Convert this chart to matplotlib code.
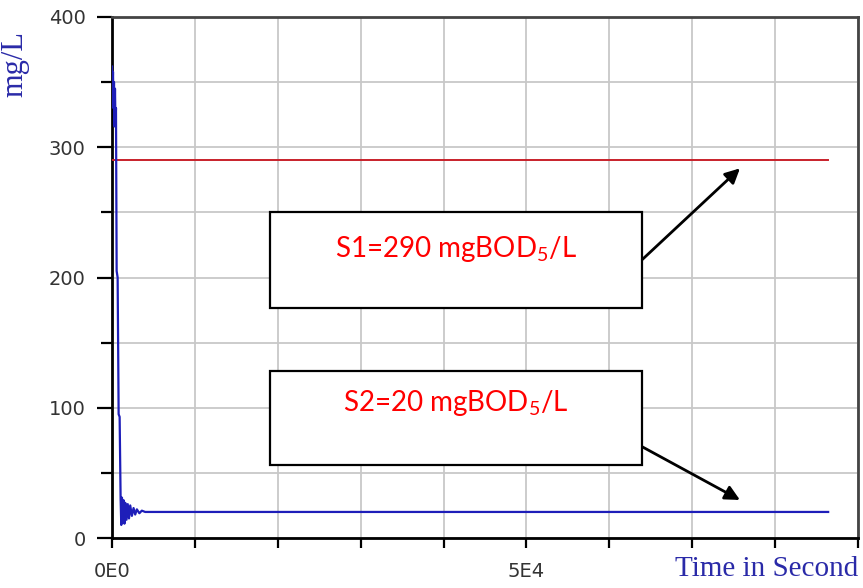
import matplotlib
matplotlib.use("Agg")
import matplotlib.pyplot as plt
from matplotlib.patches import Rectangle
from matplotlib.ticker import MultipleLocator, FixedLocator, FixedFormatter

plt.rcParams["mathtext.fontset"] = "custom"
plt.rcParams["mathtext.rm"] = "Lato"

# Simulated substrate concentration over one day (seconds, mg/L)
time_s2 = [0, 60, 120, 180, 240, 300, 360, 420, 480, 560, 680, 800, 920, 1040,
           1120, 1200, 1300, 1400, 1500, 1600, 1750, 1900, 2050, 2200, 2400,
           2600, 2800, 3000, 3300, 3600, 4000, 86400]
conc_s2 = [362, 340, 358, 330, 350, 316, 345, 318, 330, 205, 200, 95, 93, 30,
           10, 31, 12, 29, 11, 27, 14, 26, 15, 25, 17, 23, 18, 22, 19, 21,
           20, 20]
time_s1 = [0, 86400]
conc_s1 = [290, 290]

x_ticks = [0, 10000, 20000, 30000, 40000, 50000, 60000, 70000, 80000, 90000]
x_tick_labels = ["0E0", "", "", "", "", "5E4", "", "", "", ""]
y_ticks = [0, 100, 200, 300, 400]

label_s1 = r"S1=290 mgBOD$_\mathregular{5}$/L"
label_s2 = r"S2=20 mgBOD$_\mathregular{5}$/L"

fig = plt.figure(figsize=(8.63, 5.88), dpi=100)
ax = fig.add_axes([112 / 863, 1 - 538 / 588, (858 - 112) / 863, (538 - 17) / 588])

ax.set_xlim(0, 90000)
ax.set_ylim(0, 400)

ax.plot(time_s1, conc_s1, color="#c8202a", lw=1.4, zorder=3)
ax.plot(time_s2, conc_s2, color="#1e1eb9", lw=1.6, zorder=3)

# ticks and grid
ax.xaxis.set_major_locator(FixedLocator(x_ticks))
ax.xaxis.set_major_formatter(FixedFormatter(x_tick_labels))
ax.yaxis.set_major_locator(FixedLocator(y_ticks))
ax.yaxis.set_minor_locator(MultipleLocator(50))
ax.grid(True, which="both", color="#c8c8c8", lw=1.3, zorder=0)
ax.set_axisbelow(True)
ax.tick_params(axis="y", which="major", direction="out", length=11, width=1.6,
               labelsize=14, labelcolor="#333333", pad=8)
ax.tick_params(axis="y", which="minor", direction="out", length=8, width=1.6)
ax.tick_params(axis="x", which="major", direction="out", length=7, width=1.6,
               labelsize=14, labelcolor="#333333", pad=10)

for side in ("left", "bottom"):
    ax.spines[side].set_color("black")
    ax.spines[side].set_linewidth(2)
for side in ("top", "right"):
    ax.spines[side].set_color("#444444")
    ax.spines[side].set_linewidth(2)

fig.text(15 / 863, 1 - 64 / 588, "mg/L", rotation=90, color="#2a2aa8",
         family="Liberation Serif", fontsize=22, ha="center", va="center")
fig.text(858 / 863, 1 - 569 / 588, "Time in Second", color="#2a2aa8",
         family="Liberation Serif", fontsize=21, ha="right", va="center")

# annotation boxes
def add_box(x0, x1, y0, y1, text, ty):
    ax.add_patch(Rectangle((x0, y0), x1 - x0, y1 - y0, facecolor="white",
                           edgecolor="black", lw=1.6, zorder=5))
    ax.text((x0 + x1) / 2, ty, text, color="#ff0000", family="Lato",
            fontsize=20, ha="center", va="center", zorder=6)

add_box(19040, 63976, 176.9, 250.0, label_s1, 222)
add_box(19040, 63976, 56.2, 128.5, label_s2, 104)

arrow = dict(arrowstyle="-|>", color="black", lw=2, mutation_scale=22,
             shrinkA=0, shrinkB=0)
ax.annotate("", xy=(75760, 283.8), xytext=(63976, 213.8),
            arrowprops=arrow, zorder=7)
ax.annotate("", xy=(75760, 29.2), xytext=(63976, 70.0),
            arrowprops=arrow, zorder=7)

fig.savefig("out.png", dpi=100)
